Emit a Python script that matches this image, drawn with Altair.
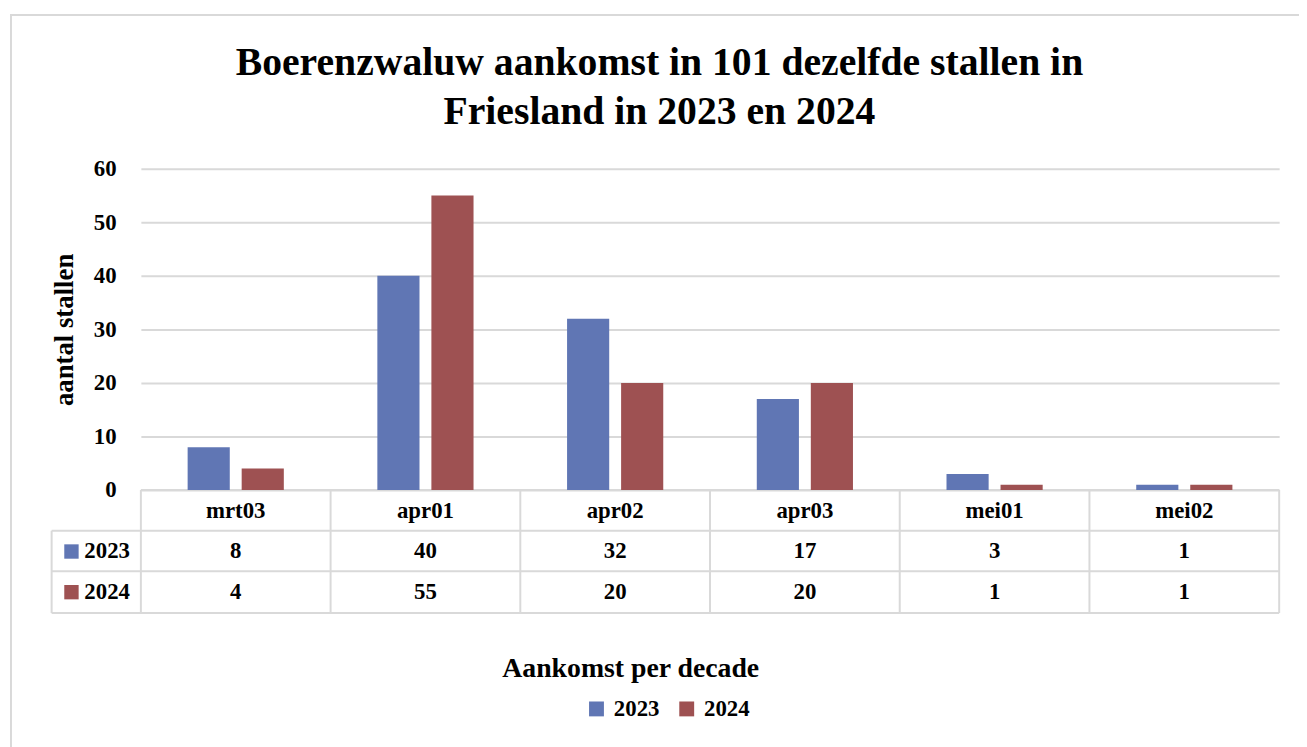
import altair as alt
import pandas as pd

title_lines = ["Boerenzwaluw aankomst in 101 dezelfde stallen in", "Friesland in 2023 en 2024"]
categories = ["mrt03", "apr01", "apr02", "apr03", "mei01", "mei02"]
years = ["2023", "2024"]
values_2023 = [8, 40, 32, 17, 3, 1]
values_2024 = [4, 55, 20, 20, 1, 1]
colors = ["#6076b4", "#9e5152"]

rows = []
for c, v in zip(categories, values_2023):
    rows.append({"cat": c, "year": "2023", "value": v})
for c, v in zip(categories, values_2024):
    rows.append({"cat": c, "year": "2024", "value": v})
df = pd.DataFrame(rows)
cat_df = pd.DataFrame({"cat": categories})

FONT = "Liberation Serif"
GRID = "#d9d9d9"
W, H = 1148, 448
PLOT_H = 324
STEP = W / len(categories)
FS = 23

xscale = alt.Scale(domain=categories, paddingInner=0, paddingOuter=0)
yscale = alt.Scale(domain=[0, 60], range=[PLOT_H, 0], nice=False)
cscale = alt.Scale(domain=years, range=colors)


def X():
    return alt.X("cat:N", scale=xscale, axis=None, sort=categories)


base = alt.Chart(df)
one = cat_df.iloc[:1]

border = alt.Chart(one).mark_rect(fill="transparent", stroke=GRID, strokeWidth=2).encode(
    x=alt.value(-131), x2=alt.value(1200), y=alt.value(-155), y2=alt.value(700)
)

title = alt.Chart(one).mark_text(font=FONT, fontSize=40, fontWeight="bold", color="#000",
                                 align="center", baseline="alphabetic", lineHeight=50,
                                 text=title_lines).encode(
    x=alt.value(523), y=alt.value(-95))

yaxis = alt.Axis(title="aantal stallen", values=[0, 10, 20, 30, 40, 50, 60],
                 grid=True, gridColor=GRID, gridWidth=2, domain=False, ticks=False,
                 labelFont=FONT, labelFontSize=FS, labelFontWeight="bold", labelColor="#000",
                 labelPadding=25,
                 titleFont=FONT, titleFontSize=27, titleFontWeight="bold", titleColor="#000",
                 titleX=-77, titleY=162, titleAngle=270, titleBaseline="middle", titleAlign="center")
legend = alt.Legend(title=None, orient="none", legendX=448, legendY=533,
                    direction="horizontal", symbolType="square", symbolSize=225,
                    symbolStrokeWidth=0, labelFont=FONT, labelFontSize=FS,
                    labelFontWeight="bold", labelColor="#000", columnPadding=16,
                    labelOffset=6)

bars23 = base.transform_filter(alt.datum.year == "2023").mark_bar(width=42.5, xOffset=-27.25).encode(
    x=X(),
    y=alt.Y("value:Q", scale=yscale, axis=yaxis),
    color=alt.Color("year:N", scale=cscale, legend=legend),
)
bars24 = base.transform_filter(alt.datum.year == "2024").mark_bar(width=42.5, xOffset=27.25).encode(
    x=X(),
    y=alt.Y("value:Q", scale=yscale, axis=yaxis),
    color=alt.Color("year:N", scale=cscale, legend=legend),
)

vlines = alt.Chart(cat_df).mark_rule(color=GRID, strokeWidth=2, xOffset=-STEP / 2).encode(
    x=X(), y=alt.value(PLOT_H), y2=alt.value(H),
)
vlast = alt.Chart(cat_df).transform_filter(alt.datum.cat == "mei02").mark_rule(
    color=GRID, strokeWidth=2, xOffset=STEP / 2).encode(
    x=X(), y=alt.value(PLOT_H), y2=alt.value(H),
)
hline0 = alt.Chart(one).mark_rule(color=GRID, strokeWidth=2).encode(
    x=alt.value(0), x2=alt.value(W), y=alt.value(PLOT_H))
hline1 = alt.Chart(one).mark_rule(color=GRID, strokeWidth=2).encode(
    x=alt.value(-90), x2=alt.value(W), y=alt.value(365))
hline2 = alt.Chart(one).mark_rule(color=GRID, strokeWidth=2).encode(
    x=alt.value(-90), x2=alt.value(W), y=alt.value(406))
hline3 = alt.Chart(one).mark_rule(color=GRID, strokeWidth=2).encode(
    x=alt.value(-90), x2=alt.value(W), y=alt.value(H))
vleft = alt.Chart(one).mark_rule(color=GRID, strokeWidth=2).encode(
    x=alt.value(-90), y=alt.value(365), y2=alt.value(H))

header = alt.Chart(cat_df).mark_text(font=FONT, fontSize=FS, fontWeight="bold", color="#000",
                                     baseline="middle").encode(
    x=X(), y=alt.value(345), text="cat:N")

cells23 = base.transform_filter(alt.datum.year == "2023").mark_text(
    font=FONT, fontSize=FS, fontWeight="bold", color="#000", baseline="middle").encode(
    x=X(), y=alt.value(386), text="value:Q")
cells24 = base.transform_filter(alt.datum.year == "2024").mark_text(
    font=FONT, fontSize=FS, fontWeight="bold", color="#000", baseline="middle").encode(
    x=X(), y=alt.value(427), text="value:Q")

row_df = pd.DataFrame({"year": years})
key23 = alt.Chart(row_df).transform_filter(alt.datum.year == "2023").mark_square(
    size=210, opacity=1, color=colors[0]).encode(x=alt.value(-70), y=alt.value(386))
key24 = alt.Chart(row_df).transform_filter(alt.datum.year == "2024").mark_square(
    size=210, opacity=1, color=colors[1]).encode(x=alt.value(-70), y=alt.value(427))
lab23 = alt.Chart(row_df).transform_filter(alt.datum.year == "2023").mark_text(
    font=FONT, fontSize=FS, fontWeight="bold", color="#000", align="left", baseline="middle").encode(
    x=alt.value(-57), y=alt.value(386), text="year:N")
lab24 = alt.Chart(row_df).transform_filter(alt.datum.year == "2024").mark_text(
    font=FONT, fontSize=FS, fontWeight="bold", color="#000", align="left", baseline="middle").encode(
    x=alt.value(-57), y=alt.value(427), text="year:N")

xtitle = alt.Chart(one).mark_text(font=FONT, fontSize=28, fontWeight="bold", color="#000",
                                  baseline="middle", text="Aankomst per decade").encode(
    x=alt.value(494), y=alt.value(505))

chart = alt.layer(
    border, title, hline0, hline1, hline2, hline3, vleft, vlines, vlast,
    bars23, bars24, header, cells23, cells24, key23, key24, lab23, lab24, xtitle
).properties(
    width=W, height=H,
    autosize=alt.AutoSizeParams(type="none"),
    padding={"left": 134, "top": 159, "right": 20, "bottom": 132},
    background="white",
).configure_view(stroke=None)

chart.save("out.html", embed_options={"renderer": "svg", "actions": False})
